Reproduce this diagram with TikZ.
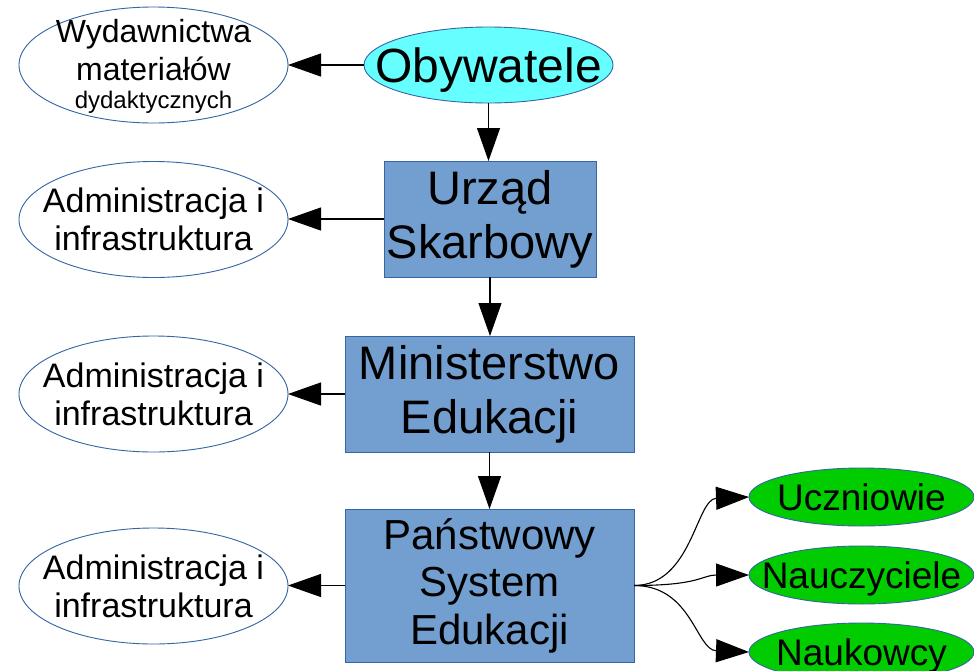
\documentclass[tikz,border=0pt]{standalone}
\usepackage{fontspec}
\setmainfont{Liberation Sans}
\usetikzlibrary{shapes.geometric,arrows.meta}
\definecolor{edgeblue}{HTML}{3465A4}
\definecolor{boxfill}{HTML}{729FCF}
\definecolor{cyanfill}{HTML}{66FFFF}
\definecolor{greenfill}{HTML}{00CC00}
\tikzset{
  ellbase/.style={ellipse, draw=edgeblue, line width=0.9pt, inner sep=0pt, outer sep=0pt},
  leftell/.style={ellbase, fill=white, minimum width=269pt, minimum height=116pt},
  greenell/.style={ellbase, fill=greenfill, minimum width=225pt, minimum height=58pt},
  cyanell/.style={ellbase, fill=cyanfill, minimum width=249pt, minimum height=76pt},
  greentext/.style={inner sep=0pt, anchor=base, font=\fontsize{37}{43}\selectfont},
  bigtext/.style={inner sep=0pt, anchor=base, font=\fontsize{48}{54}\selectfont},
  blockbox/.style={rectangle, draw=edgeblue, fill=boxfill, line width=0.9pt, inner sep=0pt,
    outer sep=0pt, align=center},
  admtext/.style={align=center, inner sep=0pt, font=\fontsize{34}{38}\selectfont},
  conn/.style={draw=black, line width=1.1pt, -{Triangle[length=33pt,width=23pt]}}
}
\begin{document}
\begin{tikzpicture}[x=1pt,y=-1pt]
\path[use as bounding box, clip] (0,0) rectangle (974,670);
\fill[white] (0,0) rectangle (974,670);

% left ellipses
\node[leftell] (wyd) at (153.5,65) {};
\node[align=center, inner sep=0pt, font=\fontsize{32}{38}\selectfont] (wydtxt) at (153.5,66)
  {Wydawnictwa\\materiałów\\[-10pt]{\fontsize{24}{28}\selectfont dydaktycznych}};
\node[leftell] (adm1) at (153.5,219.5) {};
\node[admtext] (adm1txt) at (adm1) {Administracja i\\infrastruktura};
\node[leftell] (adm2) at (153.5,394) {};
\node[admtext] (adm2txt) at (adm2) {Administracja i\\infrastruktura};
\node[leftell] (adm3) at (153.5,586) {};
\node[admtext] (adm3txt) at (adm3) {Administracja i\\infrastruktura};

% central column
\node[cyanell] (oby) at (488.5,65) {};
\node[bigtext] (obytxt) at (488.5,82.5) {Obywatele};
\node[blockbox, minimum width=212pt, minimum height=116pt,
  font=\fontsize{47}{54}\selectfont] (urz) at (490,219) {Urząd\\Skarbowy};
\node[blockbox, minimum width=289pt, minimum height=116pt,
  font=\fontsize{47}{54}\selectfont] (min) at (489.5,394) {Ministerstwo\\Edukacji};
\node[blockbox, minimum width=289pt, minimum height=153pt,
  font=\fontsize{42}{47.5}\selectfont] (pse) at (489.5,585.5) {Państwowy\\System\\Edukacji};

% right ellipses
\node[greenell] (ucz) at (861.5,497) {};
\node[greentext] (ucztxt) at (861.5,510.5) {Uczniowie};
\node[greenell] (nau) at (861.5,575) {};
\node[greentext] (nautxt) at (861.5,588.5) {Nauczyciele};
\node[greenell] (nauk) at (861.5,652) {};
\node[greentext] (nauktxt) at (861.5,665.5) {Naukowcy};

% connectors
\draw[conn] (oby.west) -- (wyd.east);
\draw[conn] (oby.south) -- (oby.south |- urz.north);
\draw[conn] (urz.west) -- (urz.west -| adm1.east);
\draw[conn] (urz.south) -- (urz.south |- min.north);
\draw[conn] (min.west) -- (min.west -| adm2.east);
\draw[conn] (min.south) -- (min.south |- pse.north);
\draw[conn] (pse.west) -- (pse.west -| adm3.east);
\draw[conn] (pse.east) .. controls +(58,0) and (696,499) .. (ucz.west);
\draw[conn] (pse.east) .. controls +(66,0) and (702,575) .. (nau.west);
\draw[conn] (pse.east) .. controls +(58,0) and (696,650) .. (nauk.west);
\end{tikzpicture}
\end{document}
